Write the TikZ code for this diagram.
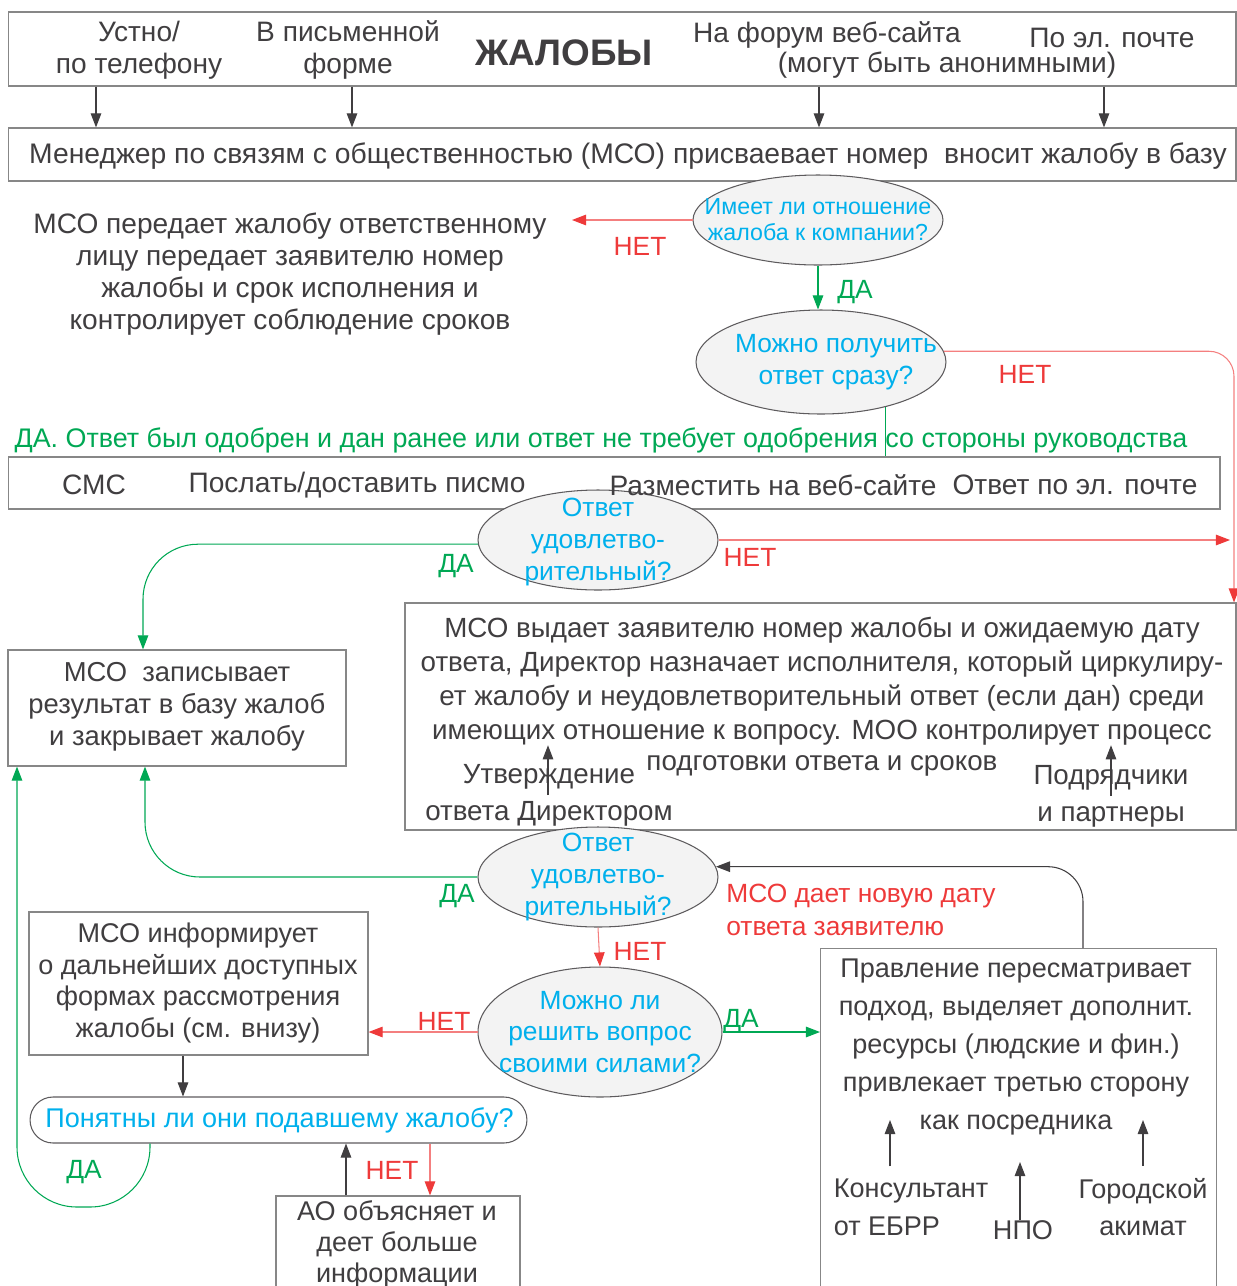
\documentclass[tikz,border=0pt]{standalone}
\usepackage{fontspec}
\setmainfont{Liberation Sans}
\usepackage{xcolor}
\usepackage{tikz}
\usetikzlibrary{
  positioning,
  arrows.meta,
  shapes.geometric,
  calc
}

\definecolor{ink}{RGB}{64,62,64}
\definecolor{frame}{RGB}{135,135,135}
\definecolor{bubble}{RGB}{243,243,243}
\definecolor{qcyan}{RGB}{0,176,236}
\definecolor{nored}{RGB}{238,58,58}
\definecolor{yesgreen}{RGB}{0,168,84}

\begin{document}
\begin{tikzpicture}[
  x=0.02cm, y=-0.02cm,
  font=\fontsize{16}{18.2}\selectfont,
  text=ink,
  box/.style={
    rectangle,
    draw=frame,
    line width=0.7pt,
    inner sep=0pt
  },
  decision/.style={
    ellipse,
    draw=ink!85,
    fill=bubble,
    line width=0.6pt,
    inner sep=0pt
  },
  pill/.style={
    rectangle,
    rounded corners=0.46cm,
    draw=ink!85,
    line width=0.6pt,
    inner sep=0pt
  },
  qtext/.style={
    text=qcyan,
    align=center,
    inner sep=0pt,
    font=\fontsize{15}{18}\selectfont
  },
  note/.style={
    align=center,
    inner sep=0pt
  },
  yeslbl/.style={text=yesgreen, inner sep=0pt, font=\fontsize{15}{18}\selectfont},
  nolbl/.style={text=nored, inner sep=0pt, font=\fontsize{15}{18}\selectfont},
  flow/.style={
    -{Triangle[length=8pt,width=6pt]},
    draw=ink,
    line width=0.6pt
  },
  yes/.style={
    -{Triangle[length=8pt,width=6pt]},
    draw=yesgreen,
    line width=0.6pt
  },
  no/.style={
    -{Triangle[length=8pt,width=6pt,color=nored]},
    draw=nored!65,
    line width=0.6pt
  }
]
\useasboundingbox (0,0) rectangle (1237,1286);

% Incoming channels
\node[box, minimum width=24.56cm, minimum height=1.48cm] (channels) at (622,49) {};
\node[note] (oral) at (139,50) {Устно/\\по телефону};
\node[note] (written) at (348,50) {В письменной\\форме};
\node[note, font=\fontsize{21}{24}\selectfont\bfseries] (title) at (564,53) {ЖАЛОБЫ};
\node[note] (forum) at (827,35) {На форум веб-сайта};
\node[note] (anon) at (947,65) {(могут быть анонимными)};
\node[note] (email) at (1112,38) {По эл. почте};

% Registration by MSO
\node[box, minimum width=24.56cm, minimum height=1.06cm] (mso) at (622,154.5) {};
\node[note, font=\fontsize{16.1}{18.2}\selectfont] (msotxt) at (628,156) {Менеджер по связям с общественностью (МСО) присваевает номер\ \ вносит жалобу в базу};

\foreach \xx in {96,352,819,1104}
  \draw[flow] (channels.south -| \xx,0) -- (mso.north -| \xx,0);

% Decisions 1 and 2
\node[decision, minimum width=5cm, minimum height=1.8cm,
  label={[qtext, font=\fontsize{13.2}{14.8}\selectfont]center:Имеет ли отношение\\жалоба к компании?}] (q1) at (818,220) {};
\node[note] (handover) at (290,274) {МСО передает жалобу ответственному\\лицу передает заявителю номер\\жалобы и срок исполнения и\\контролирует соблюдение сроков};
\node[decision, minimum width=5cm, minimum height=2.08cm,
  label={[qtext, xshift=0.3cm]center:Можно получить\\ответ сразу?}] (q2) at (821,362) {};

\coordinate (notip) at (572,222);
\draw[no] (q1.west) -- (q1.west -| notip);
\node[nolbl] (no1) at (640,246) {НЕТ};
\draw[yes] (q1.south) -- (q1.south |- q2.north);
\node[yeslbl] (yes1) at (855,292) {ДА};

% Immediate answer
\node[note, text=yesgreen, font=\fontsize{15.3}{17}\selectfont] (approved) at (601,440) {ДА. Ответ был одобрен и дан ранее или ответ не требует одобрения со стороны руководства};
\node[box, minimum width=24.24cm, minimum height=1.04cm] (deliv) at (614,483) {};
\draw[draw=yesgreen, line width=0.6pt] (q2.-35) -- (q2.-35 |- deliv.north);

% Director box
\node[box, minimum width=16.62cm, minimum height=4.54cm] (dir) at (820.5,716.5) {};
\node[note, font=\fontsize{15.8}{19.3}\selectfont] (dirtxt) at (822,681) {МСО выдает заявителю номер жалобы и ожидаемую дату\\ответа, Директор назначает исполнителя, который циркулиру-\\ет жалобу и неудовлетворительный ответ (если дан) среди\\имеющих отношение к вопросу. МОО контролирует процесс};
\node[note, font=\fontsize{15.8}{19.3}\selectfont] (prep) at (822,766) {подготовки ответа и сроков};
\node[note, font=\fontsize{15.8}{21}\selectfont] (appr) at (549,795) {Утверждение\\ответа Директором};
\node[note, font=\fontsize{15.8}{21}\selectfont] (partners) at (1111,796) {Подрядчики\\и партнеры};
\draw[flow] (appr.center -| 548,0) -- (dirtxt.south -| 548,0);
\draw[flow] (partners.center -| 1111,0) -- (dirtxt.south -| 1111,0);

\draw[no, rounded corners=0.5cm] (q2.5) -- (q2.5 -| 1234,0) -- (dir.north east -| 1234,0);
\node[nolbl] (no2) at (1025,374) {НЕТ};

% Decision 3
\node[decision, minimum width=4.8cm, minimum height=2cm,
  label={[qtext, yshift=-0.04cm]center:Ответ\\удовлетво-\\рительный?}] (q3) at (598,540) {};
\node[note] (sms) at (94,485) {СМС};
\node[note] (letter) at (357,485) {Послать/доставить писмо};
\node[note] (site) at (773,485) {Разместить на веб-сайте};
\node[note] (mail) at (1075,485) {Ответ по эл. почте};

\node[box, minimum width=6.76cm, minimum height=2.32cm] (record) at (177,708) {};
\node[note, font=\fontsize{15.6}{18.1}\selectfont] (recordtxt) at (177,707) {МСО\ \ записывает\\результат в базу жалоб\\и закрывает жалобу};

\draw[yes, rounded corners=1.1cm] (q3.-178) -| (record.north -| 143,0);
\node[yeslbl] (yes3) at (456,566) {ДА};
\draw[no] (q3.east) -- (q3.east -| 1230,0);
\node[nolbl] (no3) at (750,557) {НЕТ};

% Decision 4
\node[decision, minimum width=4.8cm, minimum height=2cm,
  label={[qtext]center:Ответ\\удовлетво-\\рительный?}] (q4) at (598,877) {};
\draw[yes, rounded corners=1.1cm] (q4.west) -| (record.south -| 145,0);
\node[yeslbl] (yes4) at (457,896) {ДА};

% Decision 5
\node[decision, minimum width=4.88cm, minimum height=2.6cm,
  label={[qtext]center:Можно ли\\решить вопрос\\своими силами?}] (q5) at (600,1032) {};
\draw[no] (q4.south) -- (q5.north);
\node[nolbl] (no4) at (640,951) {НЕТ};

% Board
\node[box, minimum width=7.92cm, minimum height=7.04cm, anchor=north west] (board) at (820,948) {};
\node[note, font=\fontsize{15.4}{21.5}\selectfont] (boardtxt) at (1016,1047) {Правление пересматривает\\подход, выделяет дополнит.\\ресурсы (людские и фин.)\\привлекает третью сторону\\как посредника};
\node[note, align=left, font=\fontsize{15.4}{21.5}\selectfont] (ebrd) at (911,1207) {Консультант\\от ЕБРР};
\node[note, font=\fontsize{15.4}{21.5}\selectfont] (npo) at (1023,1230) {НПО};
\node[note, font=\fontsize{15.4}{21.5}\selectfont] (akimat) at (1143,1207) {Городской\\акимат};
\coordinate (ebrdtip) at (890,1120);
\coordinate (npotip) at (1020,1162);
\coordinate (akimattip) at (1143,1120);
\draw[flow] (ebrd.north -| ebrdtip) ++(0,-12) -- (ebrdtip);
\draw[flow] (npo.north -| npotip) -- (npotip);
\draw[flow] (akimat.north -| akimattip) ++(0,-12) -- (akimattip);

\draw[flow, rounded corners=0.7cm] (board.north -| 1083,0) |- (q4.5);
\node[note, align=left, text=nored, anchor=west, font=\fontsize{15}{18.8}\selectfont] (newdate) at (726,910) {МСО дает новую дату\\ответа заявителю};

\draw[yes] (q5.east) -- (board.west |- q5.east);
\node[yeslbl] (yes5) at (741,1021) {ДА};

% Further forms
\node[box, minimum width=6.78cm, minimum height=2.86cm] (inform) at (198.5,983.5) {};
\node[note, font=\fontsize{15.4}{18.1}\selectfont] (informtxt) at (198,983) {МСО информирует\\о дальнейших доступных\\формах рассмотрения\\жалобы (см. внизу)};
\draw[no] (q5.west) -- (inform.east |- q5.west);
\node[nolbl] (no5) at (444,1021) {НЕТ};

\node[pill, minimum width=9.94cm, minimum height=0.92cm] (clear) at (278.5,1120) {};
\node[note, text=qcyan, font=\fontsize{15.4}{18}\selectfont] (cleartxt) at (279.5,1120) {Понятны ли они подавшему жалобу?};
\draw[flow] (inform.south -| 183,0) -- (clear.north -| 183,0);

\coordinate (yesloop) at (17,1207);
\draw[yes, rounded corners=1.2cm] (clear.south -| 150,0) |- (yesloop) -- (record.south -| 17,0);
\node[yeslbl] (yes6) at (84,1172) {ДА};

\node[box, minimum width=4.88cm, minimum height=1.92cm] (ao) at (398,1244) {};
\node[note, font=\fontsize{15.4}{17.6}\selectfont] (aotxt) at (397,1244) {АО объясняет и\\деет больше\\информации};
\draw[no] (clear.south -| 430,0) -- (ao.north -| 430,0);
\node[nolbl] (no6) at (392,1170) {НЕТ};
\draw[flow] (ao.north -| 346,0) -- (clear.south -| 346,0);

\end{tikzpicture}
\end{document}
